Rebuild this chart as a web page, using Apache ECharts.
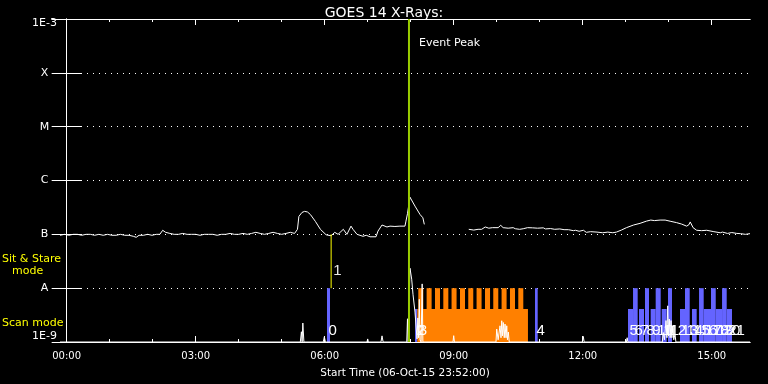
<!DOCTYPE html>
<html><head><meta charset="utf-8">
<script src="https://cdn.jsdelivr.net/npm/echarts@6.0.0/dist/echarts.min.js"></script>
<style>html,body{margin:0;padding:0;background:#000}#c{width:768px;height:384px}</style>
</head><body><div id="c"></div>
<script>
// ---------------- data ----------------
const chartTitle = 'GOES 14 X-Rays:';
const xAxisName = 'Start Time (06-Oct-15 23:52:00)';
// time in minutes after 00:00 (start is 23:52 of the previous day)
const xMinMinutes = -9.3, xMaxMinutes = 953.4;
const majorTickMinutes = [0, 180, 360, 540, 720, 900];
const minorTickMinutes = [0, 60, 120, 180, 240, 300, 360, 420, 480, 540, 600, 660, 720, 780, 840, 900];
const fluxMin = 1e-9, fluxMax = 1e-3;
const levelLabels = { '-3': '1E-3', '-4': 'X', '-5': 'M', '-6': 'C', '-7': 'B', '-8': 'A', '-9': '1E-9' };

// long channel (1-8 A): [minutes, flux W/m^2]; '-' = data gap
const longChannel = [
  [-9.3, 9.6e-8], [-3, 1.0e-7], [3, 9.6e-8], [9, 1.0e-7], [15, 1.0e-7], [21, 9.6e-8], [27, 1.0e-7], [33, 1.0e-7],
  [39, 9.6e-8], [45, 1.0e-7], [51, 9.6e-8], [57, 1.0e-7], [63, 9.6e-8], [69, 9.6e-8], [75, 1.0e-7], [81, 9.6e-8],
  [87, 9.6e-8], [93, 9.2e-8], [97, 8.8e-8], [101, 9.6e-8], [107, 9.6e-8], [113, 1.0e-7], [119, 9.6e-8], [125, 1.0e-7],
  [130, 1.0e-7], [134, 1.19e-7], [138, 1.09e-7], [144, 1.04e-7], [150, 1.0e-7], [156, 1.0e-7], [162, 1.04e-7],
  [168, 1.0e-7], [174, 1.0e-7], [180, 1.0e-7], [186, 9.6e-8], [192, 1.0e-7], [198, 1.0e-7], [204, 1.0e-7],
  [210, 9.6e-8], [216, 1.0e-7], [222, 1.0e-7], [228, 1.04e-7], [234, 1.0e-7], [240, 1.0e-7], [246, 1.04e-7],
  [252, 1.0e-7], [258, 1.04e-7], [264, 1.09e-7], [270, 1.04e-7], [276, 1.0e-7], [282, 1.04e-7], [288, 1.09e-7],
  [294, 1.04e-7], [300, 1.0e-7], [306, 1.04e-7], [312, 1.09e-7], [318, 1.04e-7], [322, 1.24e-7], [324, 2.15e-7],
  [328.3, 2.55e-7], [332, 2.67e-7], [336, 2.6e-7], [340, 2.34e-7], [347, 1.74e-7], [354, 1.24e-7], [362, 9.8e-8],
  [369, 9.4e-8], [374, 1.09e-7], [378.6, 1.0e-7], [381, 1.04e-7], [386, 1.24e-7], [391, 1.0e-7], [396.7, 1.42e-7],
  [399.5, 1.24e-7], [405.1, 1.0e-7], [413.4, 9.2e-8], [418, 9.6e-8], [423.2, 9.0e-8], [431.6, 9.0e-8], [434.4, 1.15e-7],
  [440, 1.49e-7], [446.9, 1.37e-7], [451.1, 1.42e-7], [458, 1.4e-7], [465, 1.42e-7], [472, 1.42e-7], [473.4, 1.76e-7],
  [475.5, 2.42e-7], [479, 4.9e-7], [486, 3.34e-7], [493, 2.34e-7], [497, 2.03e-7], [499, 1.53e-7], [530, '-'],
  [561, 1.24e-7], [568, 1.2e-7], [574, 1.24e-7], [579, 1.24e-7], [584, 1.37e-7], [589, 1.3e-7], [594, 1.33e-7],
  [602, 1.33e-7], [605.6, 1.47e-7], [609, 1.33e-7], [616, 1.3e-7], [623, 1.33e-7], [626, 1.27e-7], [632, 1.24e-7],
  [637, 1.27e-7], [643, 1.33e-7], [650, 1.32e-7], [657, 1.3e-7], [665, 1.32e-7], [668, 1.26e-7], [675, 1.28e-7],
  [681, 1.24e-7], [688, 1.26e-7], [694, 1.22e-7], [700, 1.22e-7], [707, 1.17e-7], [710, 1.19e-7], [715, 1.14e-7],
  [721, 1.19e-7], [725, 1.09e-7], [731, 1.12e-7], [740, 1.10e-7], [748, 1.07e-7], [755, 1.10e-7], [762, 1.07e-7],
  [767, 1.10e-7], [774, 1.2e-7], [781, 1.33e-7], [791, 1.49e-7], [800, 1.6e-7], [809, 1.76e-7], [815, 1.84e-7],
  [820, 1.8e-7], [828, 1.84e-7], [835, 1.84e-7], [843, 1.74e-7], [851, 1.65e-7], [858, 1.55e-7], [865, 1.42e-7],
  [868, 1.5e-7], [870, 1.7e-7], [874, 1.33e-7], [879, 1.19e-7], [886, 1.17e-7], [893, 1.19e-7], [895, 1.10e-7],
  [903, 1.12e-7], [912, 1.07e-7], [915, 1.10e-7], [922, 1.04e-7], [928, 1.08e-7], [935, 1.04e-7], [940, 1.03e-7],
  [947, 1.0e-7], [953.4, 1.03e-7]
];

// short channel (0.5-4 A): [minutes, flux], mostly at the 1E-9 floor
const shortChannel = [
  [-9.3, 1e-9], [326, 1e-9], [327.5, 1.55e-9], [328.5, 1e-9], [329.5, 2.25e-9], [331, 1e-9],
  [358, 1e-9], [359.5, 1.25e-9], [361, 1e-9], [419, 1e-9], [420, 1.14e-9], [421, 1e-9],
  [438.5, 1e-9], [440, 1.3e-9], [441.5, 1e-9], [474.5, 1e-9], [475.5, 2.7e-9], [476.5, 1e-9],
  [478, 1e-9], [479, 2.35e-8], [481.4, 1.47e-8], [483.2, 7.7e-9], [486, 3.6e-9], [488.8, 1.14e-9],
  [490, 2.8e-9], [491, 1.2e-9], [492, 6.2e-9], [493, 1.1e-9], [494.5, 1e-9], [496, 1.2e-8], [497, 1e-9],
  [539, 1e-9], [540, 1.31e-9], [541, 1e-9], [599, 1e-9], [600, 1.74e-9], [602, 1.1e-9], [604.6, 2.0e-9],
  [606, 1.2e-9], [607, 2.48e-9], [608, 1.3e-9], [609.2, 2.3e-9], [610.5, 1.2e-9], [611.6, 2.15e-9],
  [613, 1.2e-9], [614, 2.0e-9], [615, 1.1e-9], [616.2, 1.53e-9], [617.5, 1e-9],
  [719.5, 1e-9], [720.8, 1.27e-9], [722, 1e-9], [781, 1e-9], [782, 1.2e-9], [783, 1e-9],
  [831, 1e-9], [832.4, 1.5e-9], [834, 1.1e-9], [836.2, 2.5e-9], [837.5, 1.2e-9], [838.6, 4.7e-9],
  [839.7, 1.3e-9], [840.8, 2.67e-9], [842, 1.2e-9], [843.2, 2.5e-9], [844.4, 1.2e-9], [845.6, 2.0e-9],
  [847, 1.1e-9], [848.8, 1.4e-9], [850, 1e-9], [953.4, 1e-9]
];

// observations (index labels), start/end minutes, bar top level, kind
const obsNames = ['0', '2', '3', '4', '5', '6', '7', '8', '9', '10', '11', '12', '13', '14', '15', '16', '17', '18', '19', '20', '21'];
const obsStart = [363.2, 486.0, 489.2, 653.4, 783.2, 790.2, 798.5, 806.9, 814.8, 821.8, 830.2, 839.0, 855.7, 862.7, 872.5, 882.3, 888.8, 899.0, 905.6, 914.4, 920.9];
const obsEnd = [367.4, 489.2, 643.6, 657.2, 790.2, 796.7, 805.5, 812.5, 821.8, 828.8, 837.2, 844.6, 862.7, 869.3, 879.0, 888.8, 899.0, 905.6, 914.4, 920.9, 928.3];
const obsTop = [1e-8, 4.1e-9, 4.1e-9, 1e-8, 4.1e-9, 1e-8, 4.1e-9, 1e-8, 4.1e-9, 1e-8, 4.1e-9, 1e-8, 4.1e-9, 1e-8, 4.1e-9, 1e-8, 4.1e-9, 1e-8, 4.1e-9, 1e-8, 4.1e-9];
const obsKind = ['scan', 'scan', 'raster', 'scan', 'scan', 'scan', 'scan', 'scan', 'scan', 'scan', 'scan', 'scan', 'scan', 'scan', 'scan', 'scan', 'scan', 'scan', 'scan', 'scan', 'scan'];
// raster steps of observation 3
const rasterStart = [490.6, 502.2, 513.9, 525.5, 537.0, 548.8, 560.3, 571.9, 583.7, 595.2, 606.8, 618.5, 630.1];
const rasterEnd = [497.6, 509.2, 520.9, 532.5, 544.0, 555.8, 567.3, 578.9, 590.7, 602.2, 613.8, 625.5, 637.1];
const rasterTop = [1e-8, 1e-8, 1e-8, 1e-8, 1e-8, 1e-8, 1e-8, 1e-8, 1e-8, 1e-8, 1e-8, 1e-8, 1e-8];
// sit-and-stare observation 1
const sitName = '1', sitTime = 369, sitLow = 1e-8, sitHigh = 1e-7;
// event peak
const eventName = 'Event Peak', eventTime = 477.6;

// ---------------- chart ----------------
const kindColor = { scan: '#6464ff', raster: '#ff8000' };
const FONT = 'DejaVu Sans';
const chart = echarts.init(document.getElementById('c'), null, { renderer: 'canvas' });

function hhmm(v) {
  const m = Math.round(v);
  const h = Math.floor(m / 60) % 24, mm = m % 60;
  return String(h).padStart(2, '0') + ':' + String(mm).padStart(2, '0');
}
const white = '#ffffff';
function xAx(pos, ticks, len, withLabels) {
  return {
    type: 'value', position: pos, min: xMinMinutes, max: xMaxMinutes,
    axisLine: { show: true, lineStyle: { color: white, width: 1 } },
    axisTick: { show: true, inside: true, length: len, customValues: ticks, lineStyle: { color: white } },
    axisLabel: withLabels ? { show: true, customValues: majorTickMinutes, formatter: hhmm, color: white, fontFamily: FONT, fontSize: 10, margin: 9 } : { show: false },
    splitLine: { show: false },
    name: withLabels ? xAxisName : '', nameLocation: 'middle', nameGap: 26,
    nameTextStyle: { color: white, fontFamily: FONT, fontSize: 10.5 }
  };
}
function yAx(pos, withLabels) {
  return {
    type: 'log', logBase: 10, position: pos, min: fluxMin, max: fluxMax,
    axisLine: { show: true, lineStyle: { color: white, width: 1 } },
    axisTick: { show: true, inside: true, length: 15, lineStyle: { color: white } },
    axisLabel: withLabels ? {
      show: true, color: white, fontFamily: FONT, fontSize: 11, margin: 15.5, align: 'center',
      formatter: v => {
        const e = Math.round(Math.log10(v));
        const t = levelLabels[String(e)] || '';
        return e === -3 ? '{top|' + t + '}' : t;
      },
      rich: { top: { color: white, fontFamily: FONT, fontSize: 11, padding: [9, 0, 0, 0] } },
      verticalAlignMinLabel: 'bottom'
    } : { show: false },
    splitLine: withLabels ? { show: true, lineStyle: { color: white, width: 1, type: [1, 5], dashOffset: 3 } } : { show: false },
    minorTick: { show: false }
  };
}

const obsData = obsStart.map((s, i) => [s, obsEnd[i], obsTop[i], i]);
const rasterData = rasterStart.map((s, i) => [s, rasterEnd[i], rasterTop[i], 2]);
function barRender(params, api) {
  const x0 = api.value(0), x1 = api.value(1), top = api.value(2), idx = api.value(3);
  const p0 = api.coord([x0, top]);
  const p1 = api.coord([x1, fluxMin]);
  return {
    type: 'rect',
    shape: { x: p0[0], y: p0[1], width: p1[0] - p0[0], height: p1[1] - p0[1] },
    style: { fill: kindColor[obsKind[idx]] }
  };
}

const option = {
  backgroundColor: '#000000',
  animation: false,
  title: { text: chartTitle, left: 'center', top: 1, textStyle: { color: white, fontFamily: FONT, fontSize: 14, fontWeight: 'normal' } },
  grid: { left: 60, right: 18, top: 19, bottom: 41, containLabel: false },
  xAxis: [xAx('bottom', majorTickMinutes, 6, true), xAx('bottom', minorTickMinutes, 3, false), xAx('top', majorTickMinutes, 6, false), xAx('top', minorTickMinutes, 3, false)],
  yAxis: [yAx('left', true), yAx('right', false)],
  graphic: [
    { type: 'text', left: 2, top: 254, style: { text: 'Sit & Stare', fill: '#ffff00', font: '11px "DejaVu Sans"' } },
    { type: 'text', left: 12, top: 266, style: { text: 'mode', fill: '#ffff00', font: '11px "DejaVu Sans"' } },
    { type: 'text', left: 2, top: 318, style: { text: 'Scan mode', fill: '#ffff00', font: '11px "DejaVu Sans"' } }
  ],
  series: [
    { type: 'custom', xAxisIndex: 0, yAxisIndex: 0, z: 1, renderItem: barRender, encode: { x: [0, 1], y: 2 }, data: obsData },
    { type: 'custom', xAxisIndex: 0, yAxisIndex: 0, z: 1, renderItem: barRender, encode: { x: [0, 1], y: 2 }, data: rasterData },
    { type: 'line', xAxisIndex: 0, yAxisIndex: 0, z: 3, showSymbol: false, symbol: 'none', connectNulls: false,
      lineStyle: { color: white, width: 1 }, data: longChannel },
    { type: 'line', xAxisIndex: 0, yAxisIndex: 0, z: 3, showSymbol: false, symbol: 'none',
      lineStyle: { color: white, width: 1 }, data: shortChannel },
    // sit-and-stare line with its label
    { type: 'custom', xAxisIndex: 0, yAxisIndex: 0, z: 4, encode: { x: 0, y: [1, 2] }, data: [[sitTime, sitLow, sitHigh]],
      renderItem(params, api) {
        const a = api.coord([api.value(0), api.value(1)]);
        const b = api.coord([api.value(0), api.value(2)]);
        return { type: 'group', children: [
          { type: 'line', shape: { x1: a[0], y1: a[1], x2: b[0], y2: b[1] }, style: { stroke: '#ffff00', lineWidth: 1 } },
          { type: 'text', x: a[0] + 2, y: a[1] - 10, style: { text: sitName, fill: '#e8e8e8', font: '15px "Liberation Sans"', textAlign: 'left', textVerticalAlign: 'bottom' } }
        ] };
      } },
    // event peak line
    { type: 'custom', xAxisIndex: 0, yAxisIndex: 0, z: 5, encode: { x: 0 }, data: [[eventTime]],
      renderItem(params, api) {
        const a = api.coord([api.value(0), fluxMax]);
        const b = api.coord([api.value(0), fluxMin]);
        return { type: 'group', children: [
          { type: 'line', shape: { x1: a[0], y1: a[1], x2: b[0], y2: b[1] }, style: { stroke: '#99cc00', lineWidth: 2 } },
          { type: 'text', x: a[0] + 10, y: a[1] + 24, style: { text: eventName, fill: white, font: '11px "DejaVu Sans"', textAlign: 'left', textVerticalAlign: 'middle' } }
        ] };
      } },
    // observation index labels
    { type: 'custom', xAxisIndex: 0, yAxisIndex: 0, z: 6, encode: { x: 0 }, data: obsStart.map((s, i) => [s, i]),
      renderItem(params, api) {
        const p = api.coord([api.value(0), fluxMin]);
        return { type: 'text', x: p[0] + 1.5, y: p[1] - 4,
          style: { text: obsNames[api.value(1)], fill: white, font: '15px "Liberation Sans"', textAlign: 'left', textVerticalAlign: 'bottom' } };
      } }
  ]
};
chart.setOption(option);
</script>
</body></html>
